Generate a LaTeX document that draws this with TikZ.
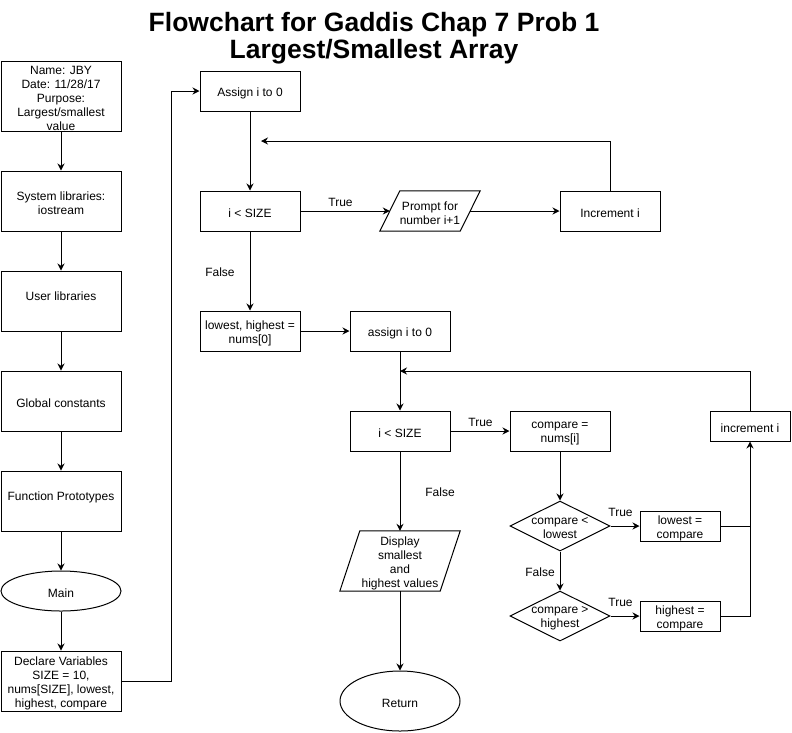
\documentclass[tikz,border=0pt]{standalone}
\usepackage{fontspec}
\setmainfont{Liberation Sans}
\usetikzlibrary{shapes.geometric,arrows.meta,calc}
\newcommand{\ct}[1]{\makebox[0pt][c]{\raisebox{-5.5pt}[0pt][0pt]{\parbox[c][0pt][c]{160pt}{\centering #1}}}}
\begin{document}
\begin{tikzpicture}[x=1pt,y=-1pt,
  every node/.style={font=\fontsize{12}{14}\selectfont, inner sep=0pt},
  proc/.style={draw, line width=1pt, rectangle, minimum width=100pt, minimum height=40pt},
  lbox/.style={proc, minimum width=120pt, minimum height=60pt},
  term/.style={draw, ellipse, line width=1pt, minimum width=120pt, minimum height=#1},
  iobox/.style={rectangle, minimum width=#1},
  dec/.style={draw, diamond, line width=1pt, minimum width=100pt, minimum height=50pt},
  flow/.style={line width=1pt, -{Stealth[length=7pt,width=7pt]}},
  conn/.style={line width=1pt},
  lab/.style={font=\fontsize{12}{14}\selectfont},
  ttl/.style={font=\fontsize{26.5}{27}\selectfont\bfseries, anchor=base}]
\useasboundingbox (0,0) rectangle (792,732);
% title
\node[ttl] (t1) at (374,31) {Flowchart for Gaddis Chap 7 Prob 1};
\node[ttl] (t2) at (374,58) {Largest/Smallest Array};
% left column
\node[lbox, minimum height=70pt] (n1) at (61,96) {\ct{Name: JBY\\Date: 11/28/17\\Purpose:\\Largest/smallest\\value}};
\node[lbox] (n2) at (61,201) {\ct{System libraries:\\iostream}};
\node[lbox] (n3) at (61,301) {\ct{User libraries\\\mbox{}}};
\node[lbox] (n4) at (61,401) {\ct{Global constants}};
\node[lbox] (n5) at (61,501) {\ct{Function Prototypes\\\mbox{}}};
\node[term=40pt] (mn) at (61,591) {\ct{Main}};
\node[lbox] (dv) at (61,681) {\ct{Declare Variables\\SIZE = 10,\\nums[SIZE], lowest,\\highest, compare}};
% first loop
\node[proc] (as1) at (250,91) {\ct{Assign i to 0}};
\node[proc] (c1) at (250,211) {\ct{i < SIZE}};
\node[iobox=100pt, minimum height=40pt] (pr) at (430,211) {\ct{Prompt for\\number i+1}};
\draw[conn] ($(pr.north west)+(20,0)$) -- (pr.north east) -- ($(pr.south east)-(20,0)$) -- (pr.south west) -- cycle;
\node[proc] (inc1) at (610,211) {\ct{Increment i}};
\node[proc] (lh) at (250,331) {\ct{lowest, highest =\\nums[0]}};
\node[proc] (as2) at (400,331) {\ct{assign i to 0}};
% second loop
\node[proc] (c2) at (400,431) {\ct{i < SIZE}};
\node[proc] (cmp) at (560,431) {\ct{compare =\\nums[i]}};
\node[proc, minimum width=80pt, minimum height=30pt] (inc2) at (750,426) {\ct{increment i}};
\node[dec] (d1) at (560,526) {\ct{compare <\\lowest}};
\node[dec] (d2) at (560,616) {\ct{compare >\\highest}};
\node[proc, minimum width=80pt, minimum height=30pt] (lo) at (680,526) {\ct{lowest =\\compare}};
\node[proc, minimum width=80pt, minimum height=30pt] (hi) at (680,616) {\ct{highest =\\compare}};
\node[iobox=120pt, minimum height=60pt] (disp) at (400,561) {\ct{Display\\smallest\\and\\highest values}};
\draw[conn] ($(disp.north west)+(20,0)$) -- (disp.north east) -- ($(disp.south east)-(20,0)$) -- (disp.south west) -- cycle;
\node[term=60pt] (ret) at (400,701) {\ct{Return}};
% loop-back points
\coordinate (lb1) at (261,141);
\coordinate (lb2) at (400,371);
% connectors
\draw[flow] (n1) -- (n2);
\draw[flow] (n2) -- (n3);
\draw[flow] (n3) -- (n4);
\draw[flow] (n4) -- (n5);
\draw[flow] (n5) -- (mn);
\draw[flow] (mn) -- (dv);
\draw[flow] (dv.east) -- ++(50,0) |- (as1.west);
\draw[flow] (as1) -- (c1);
\draw[flow] (c1) -- ($(pr.west)+(10,0)$);
\draw[flow] ($(pr.east)-(10,0)$) -- (inc1);
\draw[flow] (inc1.north) |- (lb1);
\draw[flow] (c1) -- (lh);
\draw[flow] (lh) -- (as2);
\draw[flow] (as2) -- (c2);
\draw[flow] (c2) -- (disp);
\draw[flow] (c2) -- (cmp);
\draw[flow] (disp) -- (ret);
\draw[flow] (cmp) -- (d1);
\draw[flow] (d1) -- (lo);
\draw[flow] (d1) -- (d2);
\draw[flow] (d2) -- (hi);
\draw[conn] (lo.east) -- (lo.east -| inc2.south);
\draw[flow] (hi.east) -| (inc2.south);
\draw[flow] (inc2.north) |- (lb2);
% labels
\node[lab] (l1) at (340.5,202) {True};
\node[lab] (l2) at (220,272) {False};
\node[lab] (l3) at (480.5,422) {True};
\node[lab] (l4) at (440,492) {False};
\node[lab] (l5) at (620.5,512) {True};
\node[lab] (l6) at (540,572) {False};
\node[lab] (l7) at (620.5,602) {True};
\end{tikzpicture}
\end{document}
